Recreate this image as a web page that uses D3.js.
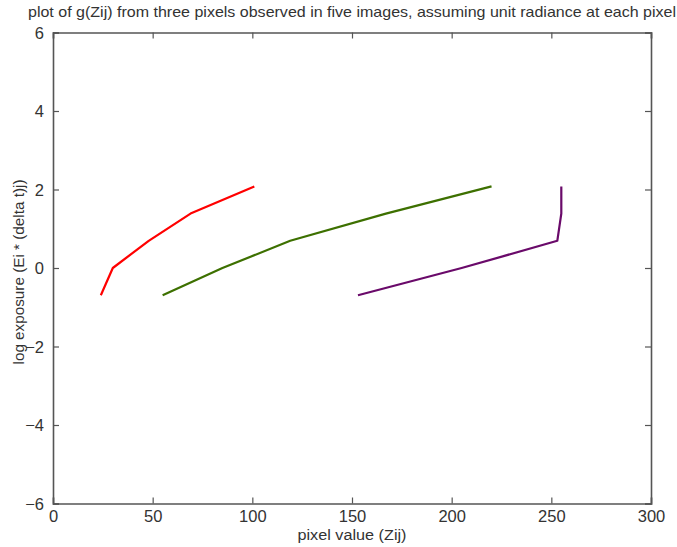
<!DOCTYPE html>
<html>
<head>
<meta charset="utf-8">
<script src="https://cdn.jsdelivr.net/npm/d3@7"></script>
<style>
  html, body { margin: 0; padding: 0; background: #fff; }
  svg text { font-family: "Liberation Sans", Arial, sans-serif; fill: #333; }
</style>
</head>
<body>
<svg id="chart" width="677" height="547"></svg>
<script>
// log exposure for the five images (log of delta t = 0.5, 1, 2, 4, 8)
const logExposure = [-0.693, 0, 0.693, 1.386, 2.079];

// pixel values Zij observed for each of the three pixels
const pixel1 = [24, 30, 48, 69, 101];
const pixel2 = [55, 85, 119, 167, 220];
const pixel3 = [153, 205, 253, 255, 255];

const seriesColors = ["#ff0000", "#3d7000", "#6a0a6a"];

const xTicks = [0, 50, 100, 150, 200, 250, 300];
const yTicks = [-6, -4, -2, 0, 2, 4, 6];

const titleText = "plot of g(Zij) from three pixels observed in five images, assuming unit radiance at each pixel";
const xLabelText = "pixel value (Zij)";
const yLabelText = "log exposure (Ei * (delta t)j)";

const margin = { left: 53, right: 26, top: 32.5, bottom: 43.5 };
const W = 677, H = 547;

const svg = d3.select("#chart");

const x = d3.scaleLinear().domain([0, 300]).range([margin.left, W - margin.right]);
const y = d3.scaleLinear().domain([-6, 6]).range([H - margin.bottom, margin.top]);

const axisColor = "#555";
const tickLen = 6;

// box-style axes with inward ticks on all four sides
const axisBottomG = svg.append("g").attr("transform", `translate(0,${y(-6)})`)
  .call(d3.axisBottom(x).tickValues(xTicks).tickSize(-tickLen).tickPadding(tickLen + 3).tickFormat(d3.format("d")));
const axisTopG = svg.append("g").attr("transform", `translate(0,${y(6)})`)
  .call(d3.axisTop(x).tickValues(xTicks).tickSize(-tickLen).tickFormat(""));
const axisLeftG = svg.append("g").attr("transform", `translate(${x(0)},0)`)
  .call(d3.axisLeft(y).tickValues(yTicks).tickSize(-tickLen).tickPadding(tickLen + 3).tickFormat(d => d < 0 ? "\u2212" + Math.abs(d) : d));
const axisRightG = svg.append("g").attr("transform", `translate(${x(300)},0)`)
  .call(d3.axisRight(y).tickValues(yTicks).tickSize(-tickLen).tickFormat(""));

[axisBottomG, axisTopG, axisLeftG, axisRightG].forEach(g => {
  g.selectAll(".domain").attr("stroke", axisColor).attr("stroke-width", 1.6);
  g.selectAll(".tick line").attr("stroke", axisColor).attr("stroke-width", 1.2);
  g.selectAll(".tick text").attr("fill", "#333").style("font-size", "16.5px")
    .style("font-family", "'Liberation Sans', Arial, sans-serif");
});
axisBottomG.selectAll(".tick text").attr("dy", "0.6em");
axisLeftG.selectAll(".tick text").attr("dy", "0.36em");

// curve lines
const line = d3.line()
  .x(d => x(d[0]))
  .y(d => y(d[1]));

[pixel1, pixel2, pixel3].forEach((vals, i) => {
  const pts = vals.map((v, k) => [v, logExposure[k]]);
  svg.append("path")
    .datum(pts)
    .attr("d", line)
    .attr("fill", "none")
    .attr("stroke", seriesColors[i])
    .attr("stroke-width", 2.2)
    .attr("stroke-linejoin", "round");
});

// title and axis labels
svg.append("text")
  .attr("x", 352).attr("y", 17)
  .attr("text-anchor", "middle")
  .style("font-size", "14.5px")
  .attr("textLength", 648)
  .attr("lengthAdjust", "spacingAndGlyphs")
  .text(titleText);

svg.append("text")
  .attr("x", 352).attr("y", 540)
  .attr("text-anchor", "middle")
  .style("font-size", "15.5px")
  .attr("textLength", 109)
  .attr("lengthAdjust", "spacingAndGlyphs")
  .text(xLabelText);

svg.append("text")
  .attr("transform", `translate(24,272) rotate(-90)`)
  .attr("text-anchor", "middle")
  .style("font-size", "15.5px")
  .attr("textLength", 185)
  .attr("lengthAdjust", "spacingAndGlyphs")
  .text(yLabelText);
</script>
</body>
</html>
